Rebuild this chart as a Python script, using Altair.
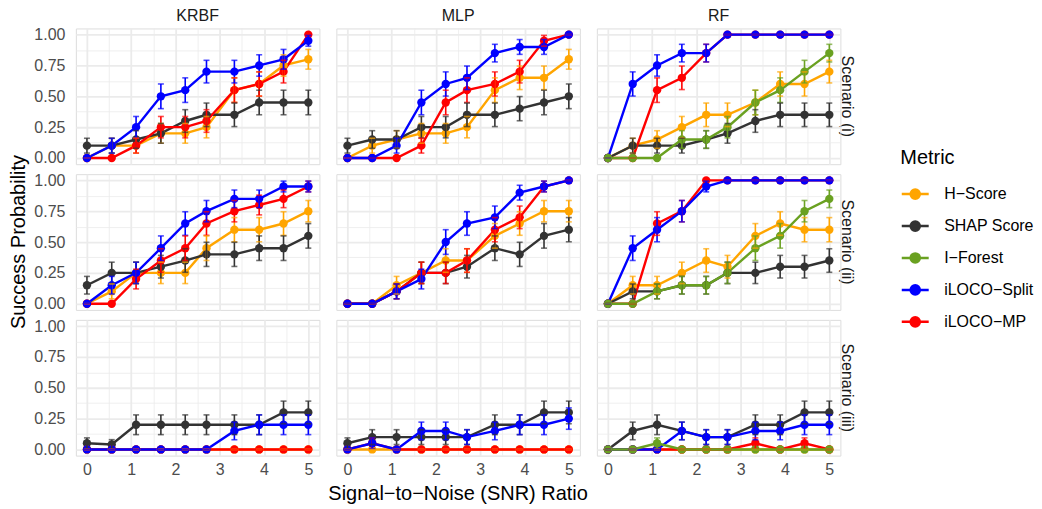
import altair as alt
import pandas as pd

# ---------------- data ----------------
snr = [0, 0.56, 1.11, 1.67, 2.22, 2.7, 3.33, 3.89, 4.44, 5]
models = ["KRBF", "MLP", "RF"]
scenarios = ["Scenario (i)", "Scenario (ii)", "Scenario (iii)"]
metrics = ["H−Score", "SHAP Score", "I−Forest", "iLOCO−Split", "iLOCO−MP"]
colors = ["#FFA500", "#333333", "#6AA121", "#0000FF", "#FF0000"]
draw_order = ["H−Score", "SHAP Score", "iLOCO−MP", "iLOCO−Split", "I−Forest"]

# KRBF
krbf_i_h = [0, 0.10, 0.10, 0.20, 0.20, 0.25, 0.55, 0.60, 0.75, 0.80]
krbf_i_shap = [0.10, 0.10, 0.15, 0.20, 0.30, 0.35, 0.35, 0.45, 0.45, 0.45]
krbf_i_split = [0, 0.10, 0.25, 0.50, 0.55, 0.70, 0.70, 0.75, 0.80, 0.95]
krbf_i_mp = [0, 0, 0.10, 0.25, 0.25, 0.30, 0.55, 0.60, 0.70, 1.00]

krbf_ii_h = [0, 0.10, 0.25, 0.25, 0.25, 0.45, 0.60, 0.60, 0.65, 0.75]
krbf_ii_shap = [0.15, 0.25, 0.25, 0.30, 0.35, 0.40, 0.40, 0.45, 0.45, 0.55]
krbf_ii_split = [0, 0.15, 0.25, 0.45, 0.65, 0.75, 0.85, 0.85, 0.95, 0.95]
krbf_ii_mp = [0, 0, 0.20, 0.35, 0.45, 0.65, 0.75, 0.80, 0.85, 0.95]

krbf_iii_h = [0, 0, 0, 0, 0, 0, 0, 0, 0, 0]
krbf_iii_shap = [0.05, 0.04, 0.20, 0.20, 0.20, 0.20, 0.20, 0.20, 0.30, 0.30]
krbf_iii_split = [0, 0, 0, 0, 0, 0, 0.15, 0.20, 0.20, 0.20]
krbf_iii_mp = [0, 0, 0, 0, 0, 0, 0, 0, 0, 0]

# MLP
mlp_i_h = [0, 0.10, 0.15, 0.20, 0.20, 0.25, 0.55, 0.65, 0.65, 0.80]
mlp_i_shap = [0.10, 0.15, 0.15, 0.25, 0.25, 0.35, 0.35, 0.40, 0.45, 0.50]
mlp_i_split = [0, 0, 0.10, 0.45, 0.60, 0.65, 0.85, 0.90, 0.90, 1.00]
mlp_i_mp = [0, 0, 0, 0.10, 0.45, 0.55, 0.60, 0.70, 0.95, 1.00]

mlp_ii_h = [0, 0, 0.15, 0.25, 0.35, 0.35, 0.55, 0.65, 0.75, 0.75]
mlp_ii_shap = [0, 0, 0.10, 0.25, 0.25, 0.30, 0.45, 0.40, 0.55, 0.60]
mlp_ii_split = [0, 0, 0.10, 0.20, 0.50, 0.65, 0.70, 0.90, 0.95, 1.00]
mlp_ii_mp = [0, 0, 0.10, 0.25, 0.25, 0.35, 0.60, 0.70, 0.95, 1.00]

mlp_iii_h = [0, 0, 0, 0, 0, 0, 0, 0, 0, 0]
mlp_iii_shap = [0.05, 0.10, 0.10, 0.10, 0.10, 0.10, 0.20, 0.20, 0.30, 0.30]
mlp_iii_split = [0, 0.05, 0, 0.15, 0.15, 0.10, 0.15, 0.20, 0.20, 0.25]
mlp_iii_mp = [0, 0.05, 0, 0, 0, 0, 0, 0, 0, 0]

# RF
rf_i_h = [0, 0.10, 0.15, 0.25, 0.35, 0.35, 0.45, 0.60, 0.60, 0.70]
rf_i_shap = [0, 0.10, 0.10, 0.10, 0.15, 0.20, 0.30, 0.35, 0.35, 0.35]
rf_i_if = [0, 0, 0, 0.15, 0.15, 0.25, 0.45, 0.55, 0.70, 0.85]
rf_i_split = [0, 0.60, 0.75, 0.85, 0.85, 1, 1, 1, 1, 1]
rf_i_mp = [0, 0, 0.55, 0.65, 0.85, 1, 1, 1, 1, 1]

rf_ii_h = [0, 0.15, 0.15, 0.25, 0.35, 0.30, 0.55, 0.65, 0.60, 0.60]
rf_ii_shap = [0, 0.10, 0.10, 0.15, 0.15, 0.25, 0.25, 0.30, 0.30, 0.35]
rf_ii_if = [0, 0, 0.10, 0.15, 0.15, 0.25, 0.45, 0.55, 0.75, 0.85]
rf_ii_split = [0, 0.45, 0.60, 0.75, 0.95, 1, 1, 1, 1, 1]
rf_ii_mp = [0, 0, 0.65, 0.75, 1.0, 1, 1, 1, 1, 1]

rf_iii_h = [0, 0, 0, 0, 0, 0, 0, 0, 0, 0]
rf_iii_shap = [0, 0.15, 0.20, 0.15, 0.10, 0.10, 0.20, 0.20, 0.30, 0.30]
rf_iii_if = [0, 0, 0.05, 0, 0, 0, 0, 0, 0, 0]
rf_iii_split = [0, 0, 0, 0.15, 0.10, 0.10, 0.15, 0.15, 0.20, 0.20]
rf_iii_mp = [0, 0, 0, 0, 0, 0, 0.05, 0, 0.05, 0]

series = [
    ("KRBF", 0, "H−Score", krbf_i_h), ("KRBF", 0, "SHAP Score", krbf_i_shap),
    ("KRBF", 0, "iLOCO−Split", krbf_i_split), ("KRBF", 0, "iLOCO−MP", krbf_i_mp),
    ("KRBF", 1, "H−Score", krbf_ii_h), ("KRBF", 1, "SHAP Score", krbf_ii_shap),
    ("KRBF", 1, "iLOCO−Split", krbf_ii_split), ("KRBF", 1, "iLOCO−MP", krbf_ii_mp),
    ("KRBF", 2, "H−Score", krbf_iii_h), ("KRBF", 2, "SHAP Score", krbf_iii_shap),
    ("KRBF", 2, "iLOCO−Split", krbf_iii_split), ("KRBF", 2, "iLOCO−MP", krbf_iii_mp),
    ("MLP", 0, "H−Score", mlp_i_h), ("MLP", 0, "SHAP Score", mlp_i_shap),
    ("MLP", 0, "iLOCO−Split", mlp_i_split), ("MLP", 0, "iLOCO−MP", mlp_i_mp),
    ("MLP", 1, "H−Score", mlp_ii_h), ("MLP", 1, "SHAP Score", mlp_ii_shap),
    ("MLP", 1, "iLOCO−Split", mlp_ii_split), ("MLP", 1, "iLOCO−MP", mlp_ii_mp),
    ("MLP", 2, "H−Score", mlp_iii_h), ("MLP", 2, "SHAP Score", mlp_iii_shap),
    ("MLP", 2, "iLOCO−Split", mlp_iii_split), ("MLP", 2, "iLOCO−MP", mlp_iii_mp),
    ("RF", 0, "H−Score", rf_i_h), ("RF", 0, "SHAP Score", rf_i_shap),
    ("RF", 0, "I−Forest", rf_i_if), ("RF", 0, "iLOCO−Split", rf_i_split),
    ("RF", 0, "iLOCO−MP", rf_i_mp),
    ("RF", 1, "H−Score", rf_ii_h), ("RF", 1, "SHAP Score", rf_ii_shap),
    ("RF", 1, "I−Forest", rf_ii_if), ("RF", 1, "iLOCO−Split", rf_ii_split),
    ("RF", 1, "iLOCO−MP", rf_ii_mp),
    ("RF", 2, "H−Score", rf_iii_h), ("RF", 2, "SHAP Score", rf_iii_shap),
    ("RF", 2, "I−Forest", rf_iii_if), ("RF", 2, "iLOCO−Split", rf_iii_split),
    ("RF", 2, "iLOCO−MP", rf_iii_mp),
]

rows = []
for model, s, metric, vals in series:
    for xv, pv in zip(snr, vals):
        rows.append({"model": model, "scenario": scenarios[s], "metric": metric,
                     "snr": xv, "p": pv, "ord": draw_order.index(metric)})
df = pd.DataFrame(rows).sort_values(["ord", "model", "scenario", "snr"]).reset_index(drop=True)

# ---------------- encodings ----------------
FONT = "Liberation Sans"
x_vals = [i * 0.5 for i in range(11)]
y_vals = [i * 0.125 for i in range(9)]

x_axis = alt.Axis(values=x_vals, labelExpr="datum.value % 1 == 0 ? format(datum.value, 'd') : ''",
                  title=None, ticks=False, domain=False,
                  gridColor="#EBEBEB",
                  gridWidth={"condition": {"test": "datum.value % 1 != 0", "value": 0.8}, "value": 1.8},
                  labelPadding=5, labelFontSize=16, labelColor="#4D4D4D")
y_axis = alt.Axis(values=y_vals, labelExpr="datum.value % 0.25 == 0 ? format(datum.value, '.2f') : ''",
                  title=None, ticks=False, domain=False,
                  gridColor="#EBEBEB",
                  gridWidth={"condition": {"test": "datum.value % 0.25 != 0", "value": 0.8}, "value": 1.8},
                  labelPadding=10, labelFontSize=16, labelColor="#4D4D4D")

xs = alt.Scale(domain=[-0.25, 5.25], nice=False, zero=False)
ys = alt.Scale(domain=[-0.05, 1.05], nice=False, zero=False)


def X():
    return alt.X("snr:Q", scale=xs, axis=x_axis)


def Y(field):
    return alt.Y(field, scale=ys, axis=y_axis)


legend_path = ("M-1,0H1M-0.34,0A0.34,0.34 0 1,0 0.34,0A0.34,0.34 0 1,0 -0.34,0Z")
color = alt.Color("metric:N", scale=alt.Scale(domain=metrics, range=colors),
                  legend=alt.Legend(title="Metric", orient="none", legendX=826, legendY=120,
                                    titleFontSize=20, labelFontSize=16, titleFontWeight="normal",
                                    titleColor="#000000", labelColor="#000000",
                                    symbolType=legend_path, symbolSize=729, symbolStrokeWidth=2.5,
                                    rowPadding=7, labelOffset=14, titlePadding=11))

line = alt.Chart().mark_line(strokeWidth=2.4).encode(x=X(), y=Y("p:Q"), color=color)
point = alt.Chart().mark_point(filled=True, size=70, opacity=1).encode(x=X(), y=Y("p:Q"), color=color)
rule = alt.Chart().mark_rule(strokeWidth=1.6).encode(x=X(), y=Y("lo:Q"), y2="hi:Q", color=color)
cap_lo = alt.Chart().mark_tick(orient="horizontal", size=6, thickness=1.6).encode(x=X(), y=Y("lo:Q"), color=color)
cap_hi = alt.Chart().mark_tick(orient="horizontal", size=6, thickness=1.6).encode(x=X(), y=Y("hi:Q"), color=color)

layered = alt.layer(line, point, rule, cap_lo, cap_hi, data=df).transform_calculate(
    se="sqrt(datum.p * (1 - datum.p) / 25)",
    lo="datum.p - datum.se",
    hi="datum.p + datum.se",
).properties(width=244, height=136)

chart = layered.facet(
    row=alt.Row("scenario:N", sort=scenarios,
                header=alt.Header(title="Success Probability", titleOrient="left", titleAngle=-90,
                                  titleFontSize=20, titleFontWeight="normal", titleColor="#000000",
                                  titleFont=FONT, titlePadding=-26,
                                  labelOrient="right", labelAngle=90,
                                  labelFontSize=16, labelColor="#1A1A1A", labelFont=FONT,
                                  labelPadding=-2)),
    column=alt.Column("model:N", sort=models,
                      header=alt.Header(title="Signal−to−Noise (SNR) Ratio", titleOrient="bottom",
                                        titleFontSize=20, titleFontWeight="normal",
                                        titleColor="#000000", titleFont=FONT, titlePadding=-4,
                                        labelOrient="top",
                                        labelFontSize=16, labelColor="#1A1A1A",
                                        labelFont=FONT, labelPadding=3)),
    spacing={"row": 8, "column": 15},
).properties(
    padding={"left": 0, "top": 0, "right": 0, "bottom": 0}
).configure_view(stroke=None).configure(font=FONT)

chart.save("out.html", embed_options={"renderer": "svg", "actions": False})
